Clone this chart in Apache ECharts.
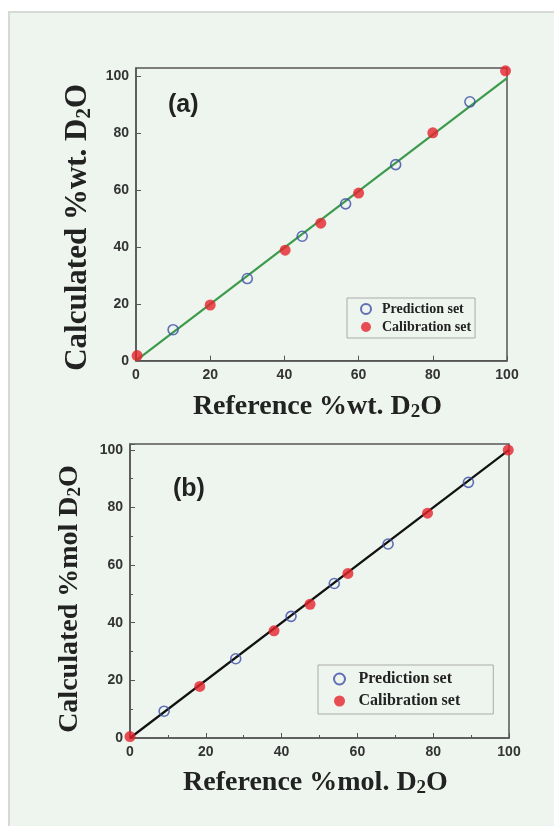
<!DOCTYPE html>
<html>
<head>
<meta charset="utf-8">
<script src="https://cdn.jsdelivr.net/npm/echarts@6/dist/echarts.min.js"></script>
<style>
  html, body { margin: 0; padding: 0; background: #fff; }
  #main { width: 554px; height: 826px; }
</style>
</head>
<body>
<div id="main"></div>
<script>
// panel (a): weight percent
const wtPrediction = [[10, 10.9], [30, 28.9], [44.8, 43.8], [56.5, 55.2], [70, 69.0], [90, 91.1]];
const wtCalibration = [[0.3, 1.8], [20, 19.6], [40.2, 38.9], [49.8, 48.4], [60, 59.0], [80, 80.2], [99.6, 102]];
const wtFit = [[0, 0], [100, 99.4]];

// panel (b): mole percent
const molPrediction = [[9.0, 9.3], [27.9, 27.5], [42.5, 42.2], [53.9, 53.6], [68.1, 67.3], [89.3, 88.7]];
const molCalibration = [[0, 0.5], [18.4, 17.9], [38, 37.2], [47.5, 46.4], [57.5, 57.1], [78.5, 78.0], [99.8, 99.9]];
const molFit = [[0, 0], [100, 100]];

const serif = '"Liberation Serif", "Times New Roman", serif';
const sans = '"Liberation Sans", Arial, sans-serif';

function nameStyle(size, pad) {
  return {
    padding: pad,
    rich: {
      n: { fontFamily: serif, fontWeight: 'bold', fontSize: size, color: '#222' },
      s: { fontFamily: serif, fontWeight: 'bold', fontSize: Math.round(size * 0.68), color: '#222', padding: [Math.round(size * 0.38), 0, 0, 0] }
    }
  };
}

function valAxis(gridIndex, max, name, gap, size, pad, minor) {
  return {
    type: 'value', gridIndex: gridIndex, min: 0, max: max, interval: 20,
    name: name, nameLocation: 'middle', nameGap: gap,
    nameTextStyle: nameStyle(size, pad),
    axisLine: { show: true, lineStyle: { color: '#555', width: 1.5 } },
    axisTick: { show: true, inside: true, length: 5, lineStyle: { color: '#555' } },
    minorTick: { show: minor, splitNumber: 2, length: 3, lineStyle: { color: '#555' } },
    axisLabel: { showMaxLabel: max === 100, fontFamily: sans, fontWeight: 'bold', fontSize: 14, color: '#333', margin: 7 },
    splitLine: { show: false }
  };
}

const predStyle = { color: 'rgba(0,0,0,0)', borderColor: '#3c4ea6', borderWidth: 1.6 };
const calStyle = { color: '#e5232b' };

const chart = echarts.init(document.getElementById('main'));

chart.setOption({
  backgroundColor: '#fff',
  animation: false,
  graphic: [
    { type: 'rect', shape: { x: 9, y: 12, width: 560, height: 830 },
      style: { fill: '#eef5ef', stroke: '#d6d9d6', lineWidth: 2 }, z: -10 },
    { type: 'text', left: 168, top: 93, style: { text: '(a)', font: 'bold 25px ' + sans, fill: '#222' } },
    { type: 'text', left: 173, top: 477, style: { text: '(b)', font: 'bold 25px ' + sans, fill: '#222' } }
  ],
  grid: [
    { left: 136, top: 68, width: 371, height: 292.7, show: true, borderColor: '#555', borderWidth: 1.5, backgroundColor: 'transparent' },
    { left: 130, top: 444, width: 379, height: 294, show: true, borderColor: '#555', borderWidth: 1.5, backgroundColor: 'transparent' }
  ],
  xAxis: [
    valAxis(0, 100, '{n|Reference %wt. D}{s|2}{n|O}', 31, 28, [0, 8, 0, 0], false),
    valAxis(1, 100, '{n|Reference %mol. D}{s|2}{n|O}', 30, 28, [0, 8, 0, 0], true)
  ],
  yAxis: [
    valAxis(0, 103, '{n|Calculated %wt. D}{s|2}{n|O}', 40, 31, [0, 26, 0, 0], false),
    valAxis(1, 102, '{n|Calculated %mol D}{s|2}{n|O}', 45, 28, [0, 16, 0, 0], true)
  ],
  legend: [
    {
      left: 347, top: 298, orient: 'vertical', itemGap: 4, itemWidth: 22, itemHeight: 10,
      padding: [4, 4, 4, 13], borderColor: '#aaa', borderWidth: 1,
      data: ['Prediction set', 'Calibration set'],
      textStyle: { fontFamily: serif, fontWeight: 'bold', fontSize: 14, color: '#222' }
    },
    {
      left: 318, top: 665, orient: 'vertical', itemGap: 6, itemWidth: 28, itemHeight: 11,
      padding: [6, 33, 5, 15], borderColor: '#aaa', borderWidth: 1,
      data: ['Prediction set', 'Calibration set'],
      textStyle: { fontFamily: serif, fontWeight: 'bold', fontSize: 16, color: '#222' }
    }
  ],
  series: [
    { type: 'line', xAxisIndex: 0, yAxisIndex: 0, data: wtFit, symbol: 'none',
      lineStyle: { color: '#3d9a4c', width: 2.2 }, z: 1, silent: true },
    { name: 'Prediction set', type: 'scatter', xAxisIndex: 0, yAxisIndex: 0, data: wtPrediction,
      symbol: 'circle', symbolSize: 10, itemStyle: predStyle, z: 3 },
    { name: 'Calibration set', type: 'scatter', xAxisIndex: 0, yAxisIndex: 0, data: wtCalibration,
      symbol: 'circle', symbolSize: 11, itemStyle: calStyle, z: 2 },
    { type: 'line', xAxisIndex: 1, yAxisIndex: 1, data: molFit, symbol: 'none',
      lineStyle: { color: '#111', width: 2.2 }, z: 1, silent: true },
    { name: 'Prediction set', type: 'scatter', xAxisIndex: 1, yAxisIndex: 1, data: molPrediction,
      symbol: 'circle', symbolSize: 10, itemStyle: predStyle, z: 3 },
    { name: 'Calibration set', type: 'scatter', xAxisIndex: 1, yAxisIndex: 1, data: molCalibration,
      symbol: 'circle', symbolSize: 11, itemStyle: calStyle, z: 2 }
  ]
});
</script>
</body>
</html>
